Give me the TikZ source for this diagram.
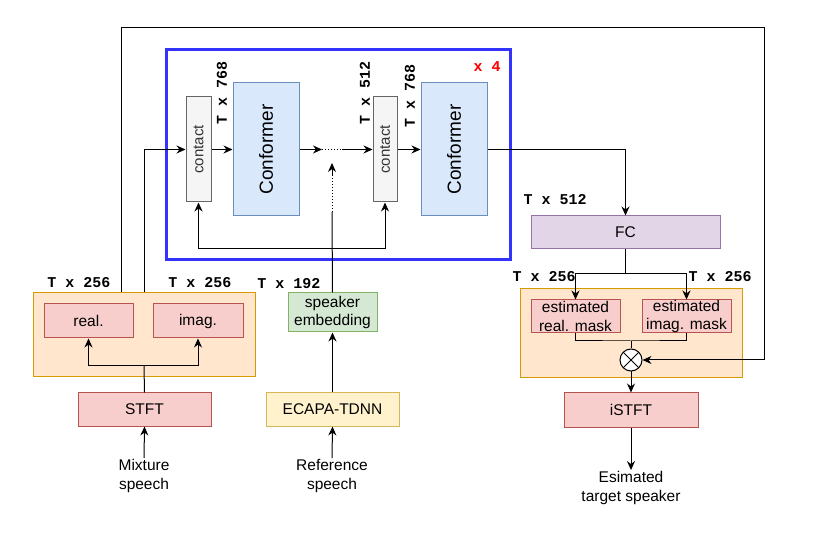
\documentclass[tikz,border=0pt]{standalone}
\usepackage{fontspec}
\setmainfont{Liberation Sans}
\newfontfamily\monob{Liberation Mono}
\usetikzlibrary{arrows.meta}
\definecolor{blueC}{HTML}{3333FF}
\definecolor{grayF}{HTML}{F5F5F5}
\definecolor{grayD}{HTML}{666666}
\definecolor{blueF}{HTML}{DAE8FC}
\definecolor{blueD}{HTML}{6C8EBF}
\definecolor{purF}{HTML}{E1D5E7}
\definecolor{purD}{HTML}{9673A6}
\definecolor{orF}{HTML}{FFE6CC}
\definecolor{orD}{HTML}{D79B00}
\definecolor{redF}{HTML}{F8CECC}
\definecolor{redD}{HTML}{B85450}
\definecolor{grnF}{HTML}{D5E8D4}
\definecolor{grnD}{HTML}{82B366}
\definecolor{yelF}{HTML}{FFF2CC}
\definecolor{yelD}{HTML}{D6B656}
\tikzset{
  bx/.style={draw, line width=1pt, inner sep=0pt, align=center, font=\fontsize{15.5}{18.5}\selectfont},
  contactbox/.style={bx, fill=grayF, draw=grayD, minimum width=25pt, minimum height=105pt, text=black!80, font=\fontsize{15}{18}\selectfont},
  confbox/.style={bx, fill=blueF, draw=blueD, minimum width=66pt, minimum height=133pt, font=\fontsize{19}{22}\selectfont},
  redbox/.style={bx, fill=redF, draw=redD},
  orbox/.style={bx, fill=orF, draw=orD},
  dimlab/.style={font=\monob\bfseries\fontsize{15}{15}\selectfont, inner sep=0pt},
  txt/.style={align=center, font=\fontsize{15.5}{19}\selectfont, inner sep=1pt},
  arr/.style={line width=1pt, -{Stealth[length=9pt,width=8pt]}},
  ln/.style={line width=1pt},
}
\begin{document}
\begin{tikzpicture}[x=1pt,y=-1pt]
\useasboundingbox (0,0) rectangle (830,534);
% containers
\node[orbox, minimum width=222pt, minimum height=84pt] (lo) at (144,335) {};
\node[orbox, minimum width=222pt, minimum height=89pt] (ro) at (631,333.5) {};
\draw[blueC, line width=3pt] (166,50) rectangle (510,260);
% nodes
\node[contactbox] (c1) at (198.5,149.5) {\rotatebox{90}{contact}};
\node[confbox] (f1) at (266,149.5) {\rotatebox{90}{Conformer}};
\node[contactbox, minimum width=24pt] (c2) at (385,149.5) {\rotatebox{90}{contact}};
\node[confbox] (f2) at (454,149.5) {\rotatebox{90}{Conformer}};
\node[bx, fill=purF, draw=purD, minimum width=189pt, minimum height=33pt] (fc) at (625.5,232.5) {FC};
\node[redbox, minimum width=89pt, minimum height=33pt] (er) at (575.5,316.5) {estimated\\real. mask};
\node[redbox, minimum width=89pt, minimum height=33pt] (ei) at (686.5,316.5) {estimated\\imag. mask};
\node[circle, draw, fill=white, line width=1pt, minimum size=22pt, inner sep=0pt,
  path picture={\draw[line width=1pt] (path picture bounding box.north west) -- (path picture bounding box.south east)
  (path picture bounding box.north east) -- (path picture bounding box.south west);}] (mul) at (631,360) {};
\node[redbox, minimum width=134pt, minimum height=34pt] (istft) at (631,410) {iSTFT};
\node[txt] (out) at (631,488) {Esimated\\target speaker};
\node[redbox, minimum width=89pt, minimum height=34pt] (re) at (88.5,321) {real.};
\node[redbox, minimum width=90pt, minimum height=34pt] (im) at (198,321) {imag.};
\node[redbox, minimum width=133pt, minimum height=33pt] (stft) at (144.5,409.5) {STFT};
\node[txt] (mix) at (144,476) {Mixture\\speech};
\node[bx, fill=grnF, draw=grnD, minimum width=89pt, minimum height=39pt] (sp) at (332.5,312.5) {speaker\\embedding};
\node[bx, fill=yelF, draw=yelD, minimum width=133pt, minimum height=33pt] (ec) at (332.5,409.5) {ECAPA-TDNN};
\node[txt] (ref) at (332,476) {Reference\\speech};
% labels
\node[dimlab, rotate=90] (l768a) at (222,93) {T x 768};
\node[dimlab, rotate=90] (l512a) at (365,93) {T x 512};
\node[dimlab, rotate=90] (l768b) at (410,96) {T x 768};
\node[dimlab, text=red] (x4) at (487,67) {x 4};
\node[dimlab] (l512b) at (555,200) {T x 512};
\node[dimlab] (l256a) at (544,277) {T x 256};
\node[dimlab] (l256b) at (720,277) {T x 256};
\node[dimlab] (l256c) at (79,283) {T x 256};
\node[dimlab] (l256d) at (200,283) {T x 256};
\node[dimlab] (l192) at (289,284) {T x 192};
% coordinates
\coordinate (dotA) at (322,149.5);
\coordinate (dotB) at (342,149.5);
\coordinate (spA) at (332,212);
\coordinate (spB) at (332,175);
\coordinate (spC) at (332,163);
\coordinate (loopM) at (332,249);
\coordinate (fcS) at (625.5,274);
\coordinate (mskM) at (631,341);
\coordinate (stS) at (144,366);
% connectors
\draw[ln] (121,0 |- lo.north) -- (121,28) -- (764,28) -- (764,360);
\draw[arr] (764,360) -- (mul.east);
\draw[arr] (lo.north) |- (c1.west);
\draw[arr] (c1) -- (f1);
\draw[arr] (f1.east) -- (dotA);
\draw[ln, dotted] (dotA) -- (dotB);
\draw[arr] (dotB) -- (c2.west);
\draw[arr] (c2) -- (f2);
\draw[ln] (sp.north) -- (spA);
\draw[ln, dotted] (spA) -- (spB);
\draw[arr] (spB) -- (spC);
\draw[arr] (loopM) -| (c1.south);
\draw[arr] (loopM) -| (c2.south);
\draw[arr] (f2.east) -| (fc.north);
\draw[ln] (fc.south) -- (fcS);
\draw[arr] (fcS) -| (er.north);
\draw[arr] (fcS) -| (ei.north);
\draw[ln] (er.south) |- (mskM) -| (ei.south);
\draw[ln] (mskM) -- (mul.north);
\draw[arr] (mul.south) -- (istft.north);
\draw[arr] (istft.south) -- (out.north);
\draw[ln] (stft.north) -- (stS);
\draw[arr] (stS) -| (re.south);
\draw[arr] (stS) -| (im.south);
\draw[arr] (mix.north) -- (stft.south);
\draw[arr] (ec.north) -- (sp.south);
\draw[arr] (ref.north) -- (ec.south);
\end{tikzpicture}
\end{document}
